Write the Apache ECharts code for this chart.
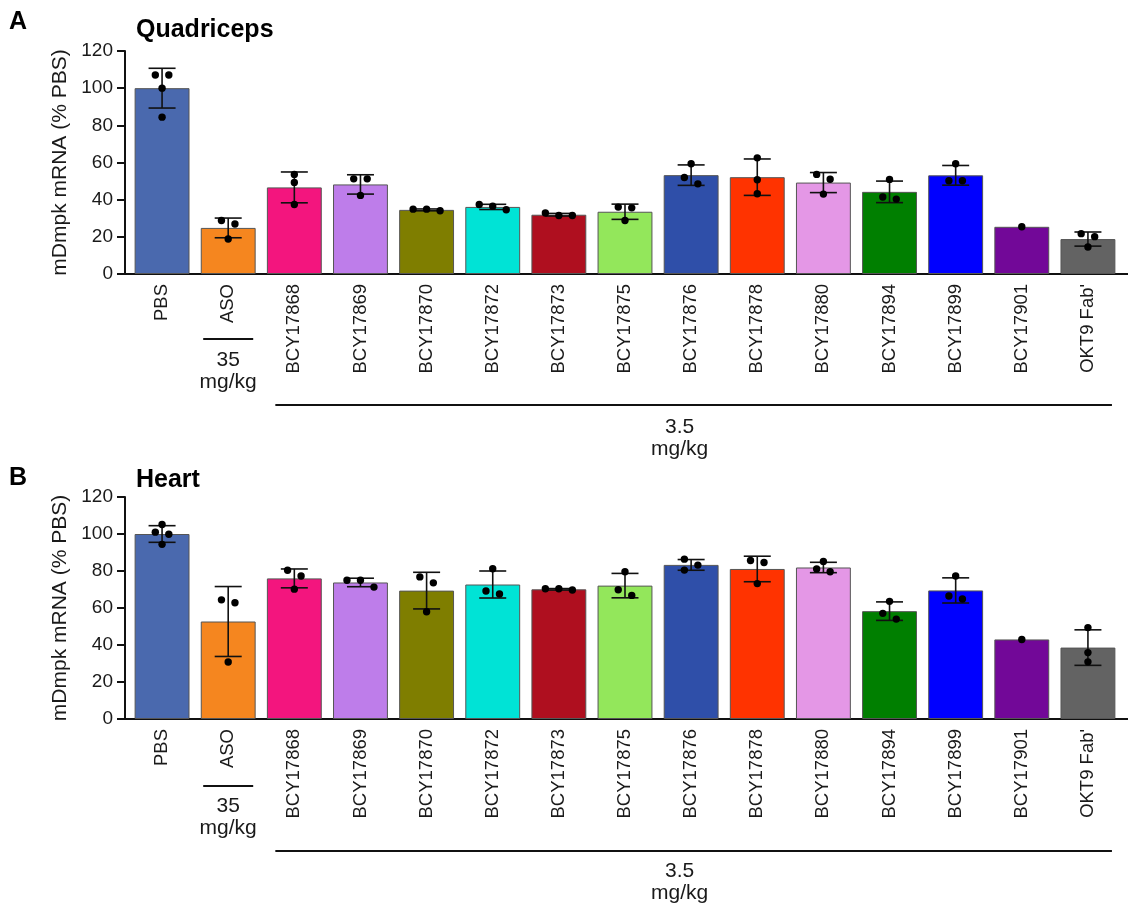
<!DOCTYPE html>
<html>
<head>
<meta charset="utf-8">
<script src="https://cdn.jsdelivr.net/npm/echarts@6/dist/echarts.min.js"></script>
<style>
  html, body { margin: 0; padding: 0; background: #fff; }
  #chart { width: 1133px; height: 907px; }
</style>
</head>
<body>
<div id="chart"></div>
<script>
// Treatment groups along the x axis
const categories = ['PBS', 'ASO', 'BCY17868', 'BCY17869', 'BCY17870', 'BCY17872', 'BCY17873',
  'BCY17875', 'BCY17876', 'BCY17878', 'BCY17880', 'BCY17894', 'BCY17899', 'BCY17901', "OKT9 Fab'"];

const barColors = ['#4A69AE', '#F5861F', '#F3157E', '#BE7DEA', '#7F7E00', '#00E3D6', '#AF0F1F',
  '#93E75B', '#2F4FA9', '#FF3300', '#E497E6', '#007F00', '#0000FF', '#720898', '#636363'];

const yTicks = [0, 20, 40, 60, 80, 100, 120];

// Quadriceps: group mean, SD and individual animals (% PBS)
const quadMean = [100, 24.8, 46.6, 48.2, 34.5, 36.1, 31.9, 33.5, 53.2, 52.1, 49.2, 44.2, 53.1, 25.4, 18.8];
const quadSD = [10.7, 5.3, 8.3, 5.2, 0.5, 1.4, 0.7, 4.1, 5.5, 9.8, 5.4, 5.8, 5.3, 0, 3.8];
const quadPoints = [
  [107.1, 107.1, 100, 84.4], [28.8, 26.9, 18.8], [53.6, 49.3, 37.4], [51.2, 51.2, 42.3],
  [34.0, 34.9, 34.9], [34.6, 37.4, 36.5], [31.5, 32.8, 31.5], [36.0, 35.6, 28.8],
  [59.3, 51.9, 48.5], [62.5, 50.7, 43.2], [53.6, 51.0, 43.0], [50.9, 41.4, 40.3],
  [59.3, 50.2, 50.2], [25.4], [21.7, 20.1, 14.5]
];

// Heart: group mean, SD and individual animals (% PBS)
const heartMean = [100, 52.7, 76.0, 73.8, 69.4, 72.7, 70.1, 72.1, 83.3, 81.1, 81.9, 58.3, 69.5, 43.0, 38.6];
const heartSD = [4.5, 18.9, 5.1, 2.3, 9.9, 7.3, 0.4, 6.6, 2.9, 6.9, 2.8, 5.0, 6.8, 0, 9.6];
const heartPoints = [
  [105.1, 101.0, 99.9, 94.4], [64.4, 62.8, 30.8], [80.4, 77.3, 70.2], [75.0, 75.0, 71.3],
  [76.8, 73.6, 58.0], [81.2, 69.2, 67.6], [69.7, 70.4, 70.4], [79.6, 69.9, 66.8],
  [86.4, 83.2, 80.5], [85.7, 84.6, 73.2], [85.2, 81.1, 79.6], [63.6, 57.1, 54.0],
  [77.3, 66.5, 64.9], [43.0], [49.4, 35.9, 30.9]
];

const doseLow = '35\nmg/kg';
const doseHigh = '3.5\nmg/kg';

const FONT = "'Liberation Sans', Arial, Helvetica, sans-serif";
const INK = '#111';

const chart = echarts.init(document.getElementById('chart'), null, { renderer: 'canvas' });

// Horizontal spread of overlapping dots (pixel y values in, pixel x offsets out)
function spreadOffsets(ys) {
  const order = ys.map((_, k) => k).sort((a, b) => ys[a] - ys[b]);
  const off = new Array(ys.length).fill(0);
  const clusters = [];
  let cur = [order[0]];
  for (let k = 1; k < order.length; k++) {
    if (ys[order[k]] - ys[order[k - 1]] < 7) cur.push(order[k]);
    else { clusters.push(cur); cur = [order[k]]; }
  }
  clusters.push(cur);
  clusters.forEach(c => {
    if (c.length < 2) return;
    const span = ys[c[c.length - 1]] - ys[c[0]];
    if (c.length === 2 || span < 7) {
      c.forEach((j, k) => { off[j] = (k - (c.length - 1) / 2) * 13.5; });
    } else {
      c.forEach((j, k) => { off[j] = (k % 2 === 0 ? -1 : 1) * 6.75; });
    }
  });
  return off;
}

function errorRender(params, api) {
  const i = api.value(0), m = api.value(1), s = api.value(2);
  if (!s) return null;
  const top = api.coord([i, m + s]);
  const bot = api.coord([i, m - s]);
  const w = 13.5;
  const st = { stroke: INK, lineWidth: 1.6 };
  return {
    type: 'group',
    children: [
      { type: 'line', shape: { x1: top[0], y1: top[1], x2: bot[0], y2: bot[1] }, style: st },
      { type: 'line', shape: { x1: top[0] - w, y1: top[1], x2: top[0] + w, y2: top[1] }, style: st },
      { type: 'line', shape: { x1: bot[0] - w, y1: bot[1], x2: bot[0] + w, y2: bot[1] }, style: st }
    ]
  };
}

function dotRender(points) {
  return function (params, api) {
    const i = api.value(0);
    const vals = points[params.dataIndex];
    const pix = vals.map(v => api.coord([i, v]));
    const off = spreadOffsets(pix.map(p => p[1]));
    return {
      type: 'group',
      children: pix.map((p, k) => ({
        type: 'circle',
        shape: { cx: p[0] + off[k], cy: p[1], r: 3.7 },
        style: { fill: '#000' }
      }))
    };
  };
}

const grids = [
  { left: 129, right: 12, top: 51, height: 223 },
  { left: 129, right: 12, top: 497, height: 222 }
];

function xAxisFor(gi) {
  return {
    type: 'category', gridIndex: gi, data: categories,
    axisLine: { lineStyle: { color: INK, width: 2 } },
    axisTick: { alignWithLabel: true, length: 7, lineStyle: { color: INK, width: 2 } },
    axisLabel: { rotate: 90, fontSize: 18.5, color: '#1a1a1a', fontFamily: FONT, margin: 10, interval: 0 },
    splitLine: { show: false }
  };
}

function yAxisFor(gi) {
  return {
    type: 'value', gridIndex: gi, min: 0, max: 120, interval: 20, offset: 4,
    name: 'mDmpk mRNA (% PBS)', nameLocation: 'middle', nameGap: 53,
    nameTextStyle: { fontSize: 21, color: '#1a1a1a', fontFamily: FONT },
    axisLine: { show: true, lineStyle: { color: INK, width: 2 } },
    axisTick: { show: true, length: 8, lineStyle: { color: INK, width: 2 } },
    axisLabel: { fontSize: 19, color: '#1a1a1a', fontFamily: FONT, margin: 12,
      customValues: yTicks },
    splitLine: { show: false }
  };
}

function panelSeries(gi, means, sds, points) {
  return [
    {
      type: 'bar', xAxisIndex: gi, yAxisIndex: gi, barCategoryGap: '17%',
      data: means.map((v, i) => ({ value: v, itemStyle: { color: barColors[i] } })),
      itemStyle: { borderColor: '#555', borderWidth: 1 },
      silent: true, z: 2
    },
    {
      type: 'custom', xAxisIndex: gi, yAxisIndex: gi, renderItem: errorRender,
      data: means.map((v, i) => [i, v, sds[i]]), silent: true, z: 3
    },
    {
      type: 'custom', xAxisIndex: gi, yAxisIndex: gi, renderItem: dotRender(points),
      data: means.map((v, i) => [i, Math.max.apply(null, points[i])]), silent: true, z: 4
    }
  ];
}

chart.setOption({
  animation: false,
  backgroundColor: '#fff',
  textStyle: { fontFamily: FONT },
  grid: grids,
  xAxis: [xAxisFor(0), xAxisFor(1)],
  yAxis: [yAxisFor(0), yAxisFor(1)],
  series: panelSeries(0, quadMean, quadSD, quadPoints).concat(panelSeries(1, heartMean, heartSD, heartPoints))
});

// Panel letters, titles, axis-line joins and dose brackets
function decorations() {
  const els = [];
  const titles = [['A', 'Quadriceps', 22, 30], ['B', 'Heart', 478, 480]];
  titles.forEach(([letter, name, ly, ty]) => {
    els.push({ type: 'text', x: 9, y: ly, style: { text: letter, font: 'bold 25px ' + FONT, fill: '#000', verticalAlign: 'middle' } });
    els.push({ type: 'text', x: 136, y: ty, style: { text: name, font: 'bold 25px ' + FONT, fill: '#000', verticalAlign: 'middle' } });
  });

  const layouts = [
    { gi: 0, shortY: 339, lowY: 371, longY: 405, highY: 438 },
    { gi: 1, shortY: 786, lowY: 817, longY: 851, highY: 882 }
  ];
  layouts.forEach(L => {
    const xOf = c => chart.convertToPixel({ xAxisIndex: L.gi }, c);
    const y0 = chart.convertToPixel({ yAxisIndex: L.gi }, 0);
    const band = xOf(categories[1]) - xOf(categories[0]);
    const gridLeft = xOf(categories[0]) - band / 2;
    const gridRight = xOf(categories[categories.length - 1]) + band / 2;
    const yAxisX = gridLeft - 4;
    const lineSt = { stroke: INK, lineWidth: 2 };
    // join the x axis to the offset y axis and run it slightly past the last group
    els.push({ type: 'line', shape: { x1: yAxisX - 1, y1: y0, x2: gridLeft + 1, y2: y0 }, style: lineSt });
    els.push({ type: 'line', shape: { x1: gridRight - 1, y1: y0, x2: gridRight + 7, y2: y0 }, style: lineSt });

    const xAso = xOf('ASO');
    els.push({ type: 'line', shape: { x1: xAso - 25, y1: L.shortY, x2: xAso + 25, y2: L.shortY }, style: lineSt });
    els.push({ type: 'text', x: xAso, y: L.lowY, style: {
      text: doseLow, font: '21px ' + FONT, fill: '#1a1a1a', align: 'center', verticalAlign: 'middle', lineHeight: 22 } });

    const x1 = xOf('BCY17868') - 19;
    const x2 = xOf(categories[categories.length - 1]) + 24;
    els.push({ type: 'line', shape: { x1: x1, y1: L.longY, x2: x2, y2: L.longY }, style: lineSt });
    els.push({ type: 'text', x: (x1 + x2) / 2 - 14, y: L.highY, style: {
      text: doseHigh, font: '21px ' + FONT, fill: '#1a1a1a', align: 'center', verticalAlign: 'middle', lineHeight: 22 } });
  });
  return els;
}

chart.setOption({ graphic: { elements: decorations() } });
</script>
</body>
</html>
